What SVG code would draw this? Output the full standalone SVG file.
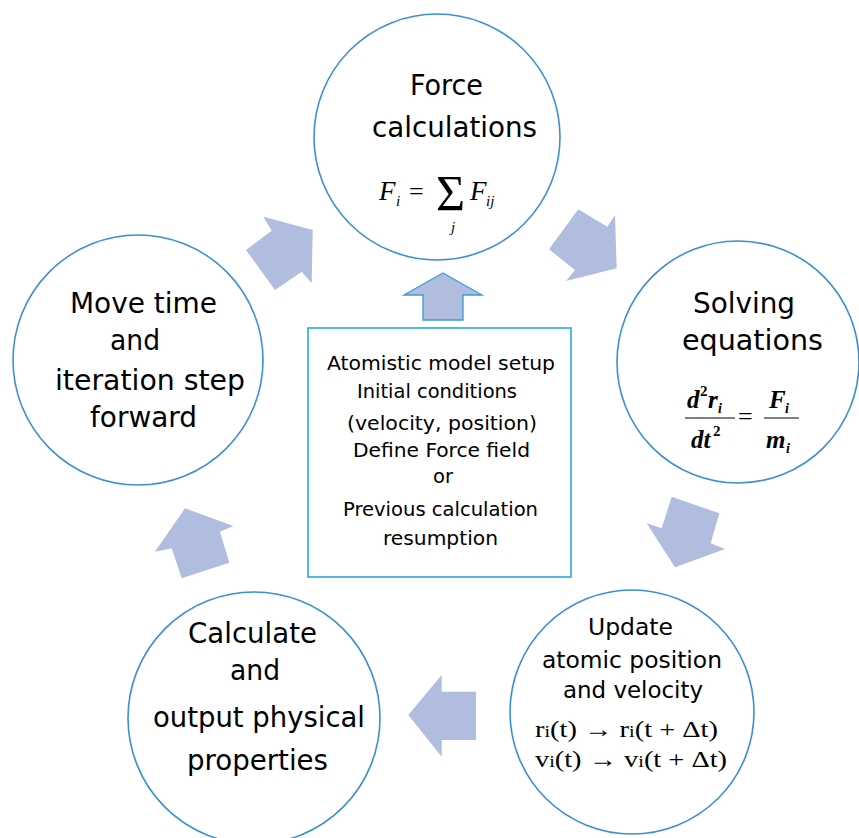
<svg xmlns="http://www.w3.org/2000/svg" width="859" height="838" viewBox="0 0 859 838">
<style>
.c{fill:#fff;stroke:#3b8fd3;stroke-width:1.6}
.t{font-family:"DejaVu Sans Condensed","DejaVu Sans",sans-serif;fill:#000;text-anchor:middle}
.big{font-size:29px}
.mid{font-size:23px}
.sm{font-size:19px}
.m{font-family:"Liberation Serif","Times New Roman",serif;fill:#000}
.mi{font-style:italic}
.arr{fill:#b1bddf}
</style>
<rect width="859" height="838" fill="#fff"/>
<g id="connectors">
<polygon class="arr" points="263.3,216.7 271.7,230.7 246,250 275,290 301.7,271.7 311.7,283.3 312.7,230"/>
<polygon class="arr" points="578.3,209.3 607.3,226.7 615,215 616.7,268.3 566,281 575,270 549,249.3"/>
<polygon class="arr" points="671.7,496.7 719.3,513.3 710.7,543.3 725,549 675,567.3 646.7,523.3 661.7,528.3"/>
<polygon class="arr" points="408.3,715 441.7,675 441.7,691.7 476,691.7 476,740 441.7,740 441.7,756.7"/>
<polygon class="arr" points="185,508.3 233.3,526 220,531.7 229.3,562.7 181.7,578.3 171.7,548.3 155,551.7"/>
<polygon points="443,273 482,295 463,295 463,320 423,320 423,295 404,295" fill="#b1bddf" stroke="#3a9ad9" stroke-width="1.3"/>
</g>
<g id="force">
<circle class="c" cx="437" cy="137" r="123"/>
<text class="t big" x="446.5" y="95" textLength="73" lengthAdjust="spacingAndGlyphs">Force</text>
<text class="t big" x="454.5" y="137" textLength="165" lengthAdjust="spacingAndGlyphs">calculations</text>
<text class="m mi" x="379" y="200" font-size="27">F</text>
<text class="m mi" x="396" y="206" font-size="15">i</text>
<text class="m" x="409" y="200" font-size="26">=</text>
<text class="m" x="436" y="210" font-size="50">Σ</text>
<text class="m mi" x="451" y="232" font-size="15">j</text>
<text class="m mi" x="470" y="200" font-size="27">F</text>
<text class="m mi" x="486" y="206" font-size="15">ij</text>
</g>
<g id="solving">
<circle class="c" cx="738" cy="362" r="121"/>
<text class="t big" x="744" y="313" textLength="102" lengthAdjust="spacingAndGlyphs">Solving</text>
<text class="t big" x="752.5" y="350" textLength="141" lengthAdjust="spacingAndGlyphs">equations</text>
<text class="m mi" x="687" y="408" font-size="25" font-weight="bold">d</text>
<text class="m" x="700" y="396" font-size="15" font-weight="bold">2</text>
<text class="m mi" x="708" y="408" font-size="25" font-weight="bold">r</text>
<text class="m mi" x="718" y="413" font-size="14" font-weight="bold">i</text>
<line x1="685" y1="418" x2="735" y2="418" stroke="#000" stroke-width="1.2"/>
<text class="m mi" x="691" y="448" font-size="25" font-weight="bold">dt</text>
<text class="m" x="713" y="436" font-size="15" font-weight="bold">2</text>
<text class="m" x="738" y="425" font-size="26">=</text>
<line x1="764" y1="418" x2="799" y2="418" stroke="#000" stroke-width="1.2"/>
<text class="m mi" x="769" y="408" font-size="25" font-weight="bold">F</text>
<text class="m mi" x="785" y="413" font-size="14" font-weight="bold">i</text>
<text class="m mi" x="766" y="448" font-size="25" font-weight="bold">m</text>
<text class="m mi" x="786" y="453" font-size="14" font-weight="bold">i</text>
</g>
<g id="update">
<circle class="c" cx="632" cy="712" r="122"/>
<text class="t mid" x="630.5" y="635" textLength="85" lengthAdjust="spacingAndGlyphs">Update</text>
<text class="t mid" x="632" y="668" textLength="180" lengthAdjust="spacingAndGlyphs">atomic position</text>
<text class="t mid" x="633" y="698" textLength="140" lengthAdjust="spacingAndGlyphs">and velocity</text>
<text class="m" x="535" y="737" font-size="24" textLength="183" lengthAdjust="spacingAndGlyphs">r<tspan font-size="17">i</tspan>(t) → r<tspan font-size="17">i</tspan>(t + Δt)</text>
<text class="m" x="535" y="767" font-size="24" textLength="192" lengthAdjust="spacingAndGlyphs">v<tspan font-size="17">i</tspan>(t) → v<tspan font-size="17">i</tspan>(t + Δt)</text>
</g>
<g id="calculate">
<circle class="c" cx="254" cy="718" r="126"/>
<text class="t big" x="252.5" y="643" textLength="129" lengthAdjust="spacingAndGlyphs">Calculate</text>
<text class="t big" x="255" y="680" textLength="50" lengthAdjust="spacingAndGlyphs">and</text>
<text class="t big" x="259" y="727" textLength="212" lengthAdjust="spacingAndGlyphs">output physical</text>
<text class="t big" x="257.5" y="770" textLength="141" lengthAdjust="spacingAndGlyphs">properties</text>
</g>
<g id="move">
<circle class="c" cx="138" cy="360" r="125"/>
<text class="t big" x="143.5" y="313" textLength="147" lengthAdjust="spacingAndGlyphs">Move time</text>
<text class="t big" x="135" y="350" textLength="50" lengthAdjust="spacingAndGlyphs">and</text>
<text class="t big" x="150" y="390" textLength="190" lengthAdjust="spacingAndGlyphs">iteration step</text>
<text class="t big" x="143.5" y="427" textLength="107" lengthAdjust="spacingAndGlyphs">forward</text>
</g>
<g id="setup">
<rect x="308" y="328" width="263" height="249" fill="#fff" stroke="#29a8e0" stroke-width="1.6"/>
<text class="t sm" x="441" y="370" textLength="228" lengthAdjust="spacingAndGlyphs">Atomistic model setup</text>
<text class="t sm" x="437" y="398" textLength="160" lengthAdjust="spacingAndGlyphs">Initial conditions</text>
<text class="t sm" x="442" y="430" textLength="190" lengthAdjust="spacingAndGlyphs">(velocity, position)</text>
<text class="t sm" x="441.5" y="457" textLength="177" lengthAdjust="spacingAndGlyphs">Define Force field</text>
<text class="t sm" x="443" y="483" textLength="20" lengthAdjust="spacingAndGlyphs">or</text>
<text class="t sm" x="440.5" y="516" textLength="195" lengthAdjust="spacingAndGlyphs">Previous calculation</text>
<text class="t sm" x="440.5" y="545" textLength="115" lengthAdjust="spacingAndGlyphs">resumption</text>
</g>
</svg>
